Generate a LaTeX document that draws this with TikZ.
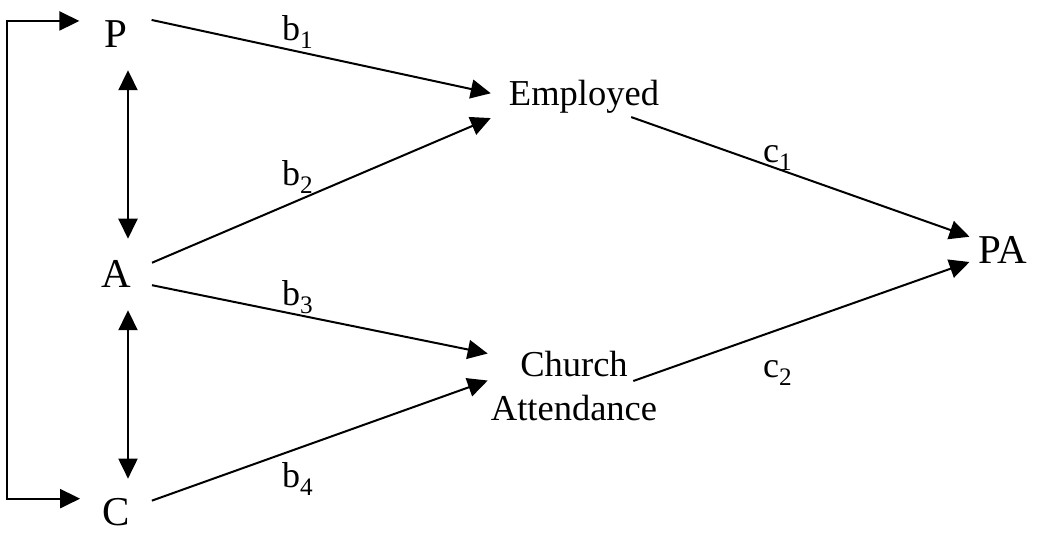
\documentclass[tikz,border=0pt]{standalone}
\usepackage{fontspec}
\setmainfont{Liberation Serif}
\usepackage{tikz}
\usetikzlibrary{arrows.meta, calc}

\begin{document}
\begin{tikzpicture}[x=1pt, y=-1pt,
    var/.style={inner sep=0pt, anchor=base, font=\fontsize{41}{49}\selectfont},
    mid/.style={inner sep=0pt, anchor=base, align=center, font=\fontsize{36.5}{44}\selectfont},
    lbl/.style={inner sep=0pt, anchor=base west, font=\fontsize{36}{42}\selectfont},
    arr/.style={-{Triangle[length=20pt, width=19pt]}, line width=2pt},
    both/.style={{Triangle[length=20pt, width=19pt]}-{Triangle[length=20pt, width=19pt]}, line width=2pt}]
    \useasboundingbox (0,0) rectangle (1037,533);

    % variables
    \node (P) [var] at (116,47) {P};
    \node (A) [var] at (116,287) {A};
    \node (C) [var] at (116,525) {C};
    \node (emp) [mid] at (584,105) {Employed};
    \node (church) [mid] at (574,420) {Church\\Attendance};
    \node (PA) [var] at (1003,263) {PA};

    % path coefficients
    \node (b1) [lbl] at (282,40) {b\textsubscript{1}};
    \node (b2) [lbl] at (282,185) {b\textsubscript{2}};
    \node (b3) [lbl] at (282,305) {b\textsubscript{3}};
    \node (b4) [lbl] at (282,487) {b\textsubscript{4}};
    \node (c1) [lbl] at (763,162) {c\textsubscript{1}};
    \node (c2) [lbl] at (763,377) {c\textsubscript{2}};

    % correlations among P, A and C
    \draw[both] ([xshift=-25pt,yshift=-1pt]P.north west) -- ++(-72,0) |- ([xshift=-22pt,yshift=-1pt]C.north west);
    \draw[both] ([xshift=12pt,yshift=-23pt]P.south) -- ([xshift=12pt,yshift=21pt]A.north);
    \draw[both] ([xshift=12pt,yshift=-23pt]A.south) -- ([xshift=12pt,yshift=19pt]C.north);

    % direct paths
    \draw[arr] ([xshift=24pt]P.north east) -- ([xshift=-18pt,yshift=3pt]emp.west);
    \draw[arr] ([xshift=21pt,yshift=-3pt]A.north east) -- ([xshift=-18pt,yshift=-5pt]emp.south west);
    \draw[arr] ([xshift=21pt,yshift=2pt]A.south east) -- ([xshift=-3pt,yshift=32pt]church.west);
    \draw[arr] ([xshift=22pt,yshift=-3pt]C.north east) -- ([xshift=-3pt,yshift=5pt]church.west);
    \draw[arr] ([xshift=-28pt,yshift=-4pt]emp.south east) -- ([xshift=-9pt,yshift=-1pt]PA.north west);
    \draw[arr] ([xshift=-24pt,yshift=39pt]church.base east) -- ([xshift=-9pt,yshift=1pt]PA.base west);
\end{tikzpicture}
\end{document}
